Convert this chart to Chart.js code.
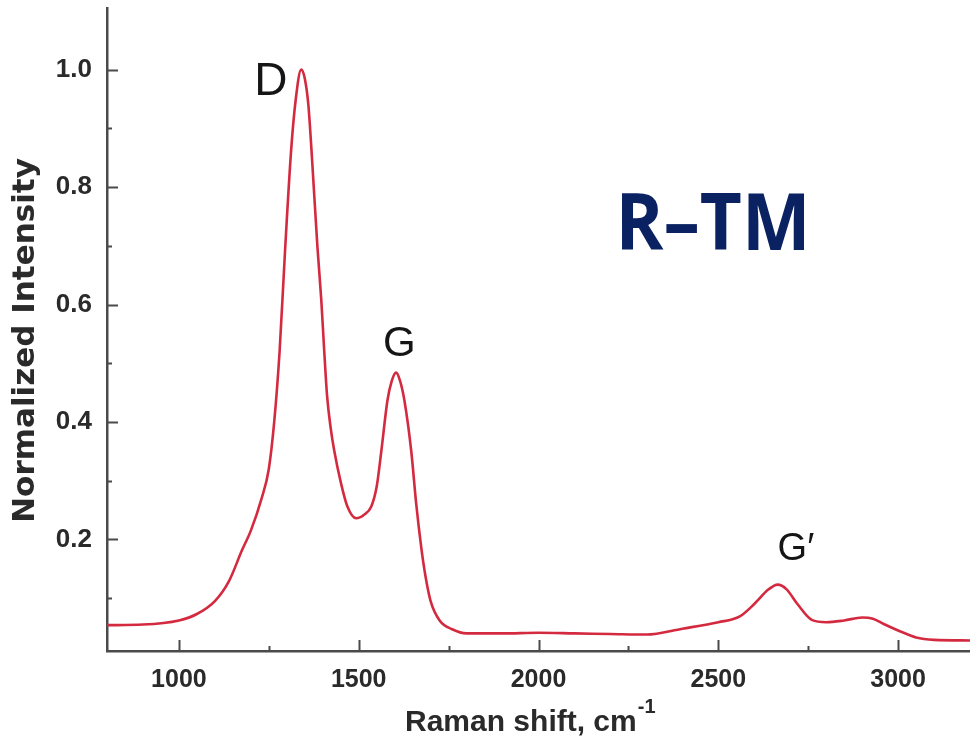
<!DOCTYPE html>
<html>
<head>
<meta charset="utf-8">
<script src="https://cdn.jsdelivr.net/npm/chart.js@4.4.1/dist/chart.umd.min.js"></script>
<style>
    html, body { margin: 0; padding: 0; background: #ffffff; }
    #wrap { width: 970px; height: 742px; position: relative; }
</style>
</head>
<body>
<div id="wrap"><canvas id="ramanChart"></canvas></div>
<script>
// Raman spectrum (cm-1 / normalized)
const ramanShift = [
    800, 900, 1000, 1050, 1100, 1140, 1175, 1200, 1230, 1250, 1265, 1280,
    1295, 1312, 1325, 1340, 1350, 1360, 1370, 1385, 1396, 1404, 1412, 1422,
    1432, 1451, 1468, 1493, 1515, 1535, 1550, 1563, 1580, 1592, 1604, 1615,
    1627, 1646, 1660, 1674, 1685, 1700, 1725, 1760, 1800, 1900, 2000, 2100,
    2200, 2300, 2400, 2500, 2560, 2600, 2640, 2665, 2690, 2720, 2760, 2800,
    2850, 2900, 2930, 2960, 3000, 3050, 3100, 3200
];
const intensity = [
    0.054, 0.055, 0.062, 0.073, 0.095, 0.130, 0.181, 0.215, 0.270, 0.320, 0.400, 0.520,
    0.690, 0.862, 0.950, 1.000, 0.985, 0.940, 0.850, 0.700, 0.607, 0.522, 0.445, 0.390,
    0.351, 0.295, 0.257, 0.236, 0.242, 0.256, 0.290, 0.351, 0.437, 0.470, 0.484, 0.470,
    0.437, 0.351, 0.260, 0.186, 0.140, 0.095, 0.062, 0.047, 0.040, 0.040, 0.041, 0.040,
    0.039, 0.038, 0.048, 0.059, 0.069, 0.090, 0.115, 0.123, 0.115, 0.090, 0.063, 0.059,
    0.062, 0.067, 0.065, 0.056, 0.045, 0.033, 0.029, 0.028
];

const xMajorTicks = [1000, 1500, 2000, 2500, 3000];
const xMinorTicks = [1250, 1750, 2250, 2750];
const yMajorTicks = [0.2, 0.4, 0.6, 0.8, 1.0];
const yMinorTicks = [0.1, 0.3, 0.5, 0.7, 0.9];

const peakNames = ['D', 'G', 'G\u2032'];
const sampleName = 'R\u2013TM';

(function () {
    const AXIS_COLOR = '#4a4a4a';
    const TEXT_COLOR = '#2a2a2a';
    const FONT = '"Liberation Sans", Arial, sans-serif';

    // inward tick marks, drawn on the library's own scales
    const innerTicks = {
        id: 'innerTicks',
        afterDraw(chart) {
            const ctx = chart.ctx;
            const x = chart.scales.x;
            const y = chart.scales.y;
            const area = chart.chartArea;

            ctx.save();
            ctx.strokeStyle = AXIS_COLOR;
            ctx.lineWidth = 2;
            ctx.beginPath();

            xMajorTicks.forEach((v) => {
                const px = Math.round(x.getPixelForValue(v)) + 0.5;
                ctx.moveTo(px, area.bottom);
                ctx.lineTo(px, area.bottom - 11);
            });
            xMinorTicks.forEach((v) => {
                const px = Math.round(x.getPixelForValue(v)) + 0.5;
                ctx.moveTo(px, area.bottom);
                ctx.lineTo(px, area.bottom - 5);
            });
            yMajorTicks.forEach((v) => {
                const py = Math.round(y.getPixelForValue(v)) + 0.5;
                ctx.moveTo(area.left, py);
                ctx.lineTo(area.left + 11, py);
            });
            yMinorTicks.forEach((v) => {
                const py = Math.round(y.getPixelForValue(v)) + 0.5;
                ctx.moveTo(area.left, py);
                ctx.lineTo(area.left + 5, py);
            });

            ctx.stroke();
            ctx.restore();
        },
    };

    // peak names, sample name and the axis titles
    const textMarks = {
        id: 'textMarks',
        afterDraw(chart) {
            const ctx = chart.ctx;
            const x = chart.scales.x;
            const y = chart.scales.y;
            const area = chart.chartArea;

            ctx.save();
            ctx.textBaseline = 'middle';
            ctx.textAlign = 'center';
            ctx.fillStyle = '#151515';

            ctx.font = '46px ' + FONT;
            ctx.fillText(peakNames[0], x.getPixelForValue(1256), y.getPixelForValue(0.978));

            ctx.font = '42px ' + FONT;
            ctx.fillText(peakNames[1], x.getPixelForValue(1613), y.getPixelForValue(0.532));

            ctx.font = '38px ' + FONT;
            ctx.fillText(peakNames[2], x.getPixelForValue(2716), y.getPixelForValue(0.183));

            // sample name, squeezed a little to match the narrow bold face
            ctx.textAlign = 'left';
            ctx.fillStyle = '#0b2262';
            ctx.font = 'bold 79px "Open Sans", ' + FONT;
            const nameW = ctx.measureText(sampleName).width;
            ctx.save();
            ctx.translate(x.getPixelForValue(2214), y.getPixelForValue(0.731));
            ctx.scale(195 / nameW, 1);
            ctx.fillText(sampleName, 0, 0);
            ctx.restore();

            // y axis title
            ctx.save();
            ctx.fillStyle = TEXT_COLOR;
            ctx.textAlign = 'center';
            ctx.font = 'bold 31px "DejaVu Sans", ' + FONT;
            ctx.translate(26, (area.top + area.bottom) / 2 + 11);
            ctx.rotate(-Math.PI / 2);
            ctx.fillText('Normalized Intensity', 0, 0);
            ctx.restore();

            // x axis title with superscript
            const main = 'Raman shift, cm';
            const sup = '-1';
            ctx.fillStyle = TEXT_COLOR;
            ctx.textAlign = 'left';
            ctx.font = 'bold 30px ' + FONT;
            const wMain = ctx.measureText(main).width;
            const startX = 405;
            ctx.fillText(main, startX, 723);
            ctx.font = 'bold 20px ' + FONT;
            ctx.fillText(sup, startX + wMain + 1, 707);

            ctx.restore();
        },
    };

    const points = ramanShift.map((v, i) => ({ x: v, y: intensity[i] }));

    const canvas = document.getElementById('ramanChart');

    new Chart(canvas.getContext('2d'), {
        type: 'line',
        data: {
            datasets: [
                {
                    label: 'R-TM',
                    data: points,
                    borderColor: '#d42a40',
                    borderWidth: 2.6,
                    pointRadius: 0,
                    fill: false,
                    cubicInterpolationMode: 'monotone',
                },
            ],
        },
        options: {
            responsive: true,
            maintainAspectRatio: false,
            animation: false,
            events: [],
            layout: {
                padding: { top: 8, right: 0, bottom: 0, left: 0 },
            },
            plugins: {
                legend: { display: false },
                tooltip: { enabled: false },
            },
            scales: {
                x: {
                    type: 'linear',
                    min: 800,
                    max: 3200,
                    afterBuildTicks(scale) {
                        scale.ticks = xMajorTicks.map((v) => ({ value: v }));
                    },
                    afterFit(scale) {
                        scale.height = 91;
                        scale.paddingLeft = 0;
                        scale.paddingRight = 0;
                    },
                    grid: { display: false, drawTicks: false },
                    border: { display: true, color: AXIS_COLOR, width: 2.5 },
                    ticks: {
                        color: TEXT_COLOR,
                        padding: 14,
                        maxRotation: 0,
                        font: { family: FONT, size: 25, weight: 'bold' },
                        callback(value) {
                            return String(value);
                        },
                    },
                },
                y: {
                    type: 'linear',
                    min: 0.01,
                    max: 1.105,
                    afterBuildTicks(scale) {
                        scale.ticks = yMajorTicks.map((v) => ({ value: v }));
                    },
                    afterFit(scale) {
                        scale.width = 107;
                        scale.paddingTop = 0;
                        scale.paddingBottom = 0;
                    },
                    grid: { display: false, drawTicks: false },
                    border: { display: true, color: AXIS_COLOR, width: 2.5 },
                    ticks: {
                        color: TEXT_COLOR,
                        padding: 15,
                        font: { family: FONT, size: 26, weight: 'bold' },
                        callback(value) {
                            return Number(value).toFixed(1);
                        },
                    },
                },
            },
        },
        plugins: [innerTicks, textMarks],
    });
})();
</script>
</body>
</html>
